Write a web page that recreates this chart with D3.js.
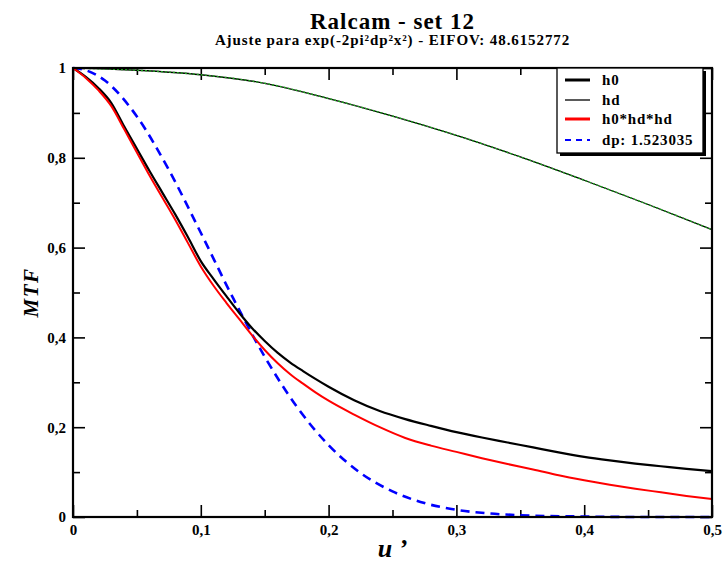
<!DOCTYPE html>
<html>
<head>
<meta charset="utf-8">
<script src="https://cdn.jsdelivr.net/npm/d3@7"></script>
<style>
  body { margin: 0; background: #fff; }
</style>
</head>
<body>
<svg id="chart" width="725" height="565"></svg>
<script>
// data
const freq = [0, 0.01, 0.02, 0.03, 0.04, 0.05, 0.06, 0.07, 0.08, 0.09, 0.10, 0.11, 0.12, 0.13, 0.14,
  0.15, 0.16, 0.17, 0.18, 0.19, 0.20, 0.22, 0.24, 0.26, 0.28, 0.30, 0.32, 0.34, 0.36, 0.38,
  0.40, 0.42, 0.44, 0.46, 0.48, 0.50];
const h0 = [1.000, 0.980, 0.955, 0.922, 0.870, 0.820, 0.770, 0.722, 0.674, 0.623, 0.570, 0.530,
  0.492, 0.455, 0.421, 0.392, 0.366, 0.344, 0.325, 0.307, 0.290, 0.260, 0.236, 0.218, 0.203,
  0.189, 0.177, 0.166, 0.155, 0.144, 0.134, 0.126, 0.119, 0.113, 0.107, 0.102];
const h0hdhd = [1.000, 0.978, 0.950, 0.915, 0.864, 0.812, 0.760, 0.711, 0.662, 0.610, 0.558, 0.515,
  0.477, 0.441, 0.405, 0.372, 0.343, 0.318, 0.297, 0.277, 0.259, 0.228, 0.200, 0.176, 0.159,
  0.145, 0.131, 0.118, 0.106, 0.093, 0.082, 0.072, 0.063, 0.055, 0.047, 0.040];

const freqHd = [0, 0.05, 0.10, 0.15, 0.20, 0.25, 0.30, 0.35, 0.40, 0.45, 0.50];
const hd = [1.000, 0.995, 0.985, 0.966, 0.932, 0.893, 0.850, 0.802, 0.750, 0.696, 0.640];

const freqDp = [0, 0.01, 0.025, 0.05, 0.075, 0.10, 0.125, 0.15, 0.175, 0.20, 0.225, 0.25, 0.275,
  0.30, 0.325, 0.35, 0.40, 0.45, 0.50];
const dp = [1.000, 0.995, 0.972, 0.892, 0.773, 0.633, 0.489, 0.357, 0.246, 0.160, 0.098, 0.057,
  0.031, 0.016, 0.008, 0.004, 0.001, 0.000, 0.000];

const xMajor = [0, 0.1, 0.2, 0.3, 0.4, 0.5];
const xMinor = [0.05, 0.15, 0.25, 0.35, 0.45];
const yMajor = [0, 0.2, 0.4, 0.6, 0.8, 1];
const yMinor = [0.1, 0.3, 0.5, 0.7, 0.9];

const legendNames = ['h0', 'hd', 'h0*hd*hd', 'dp: 1.523035'];

const font = '"Liberation Serif", "Liberation Sans", Arial, sans-serif';

const svg = d3.select('svg#chart')
  .style('font-family', font)
  .style('font-weight', 'bold');
const pad = {top: 68, right: 13, bottom: 48, left: 73};
const width = 725 - pad.left - pad.right;
const height = 565 - pad.top - pad.bottom;

const plot = svg.append('g').attr('transform', `translate(${pad.left}, ${pad.top})`);

const x = d3.scaleLinear().domain([0, 0.5]).range([0, width]);
const y = d3.scaleLinear().domain([0, 1]).range([height, 0]);

const fmt = d => String(d).replace('.', ',');

// title
svg.append('text')
  .attr('x', pad.left + width / 2).attr('y', 29)
  .attr('text-anchor', 'middle')
  .style('font-size', '23px').style('letter-spacing', '1px')
  .text('Ralcam - set 12');
svg.append('text')
  .attr('x', pad.left + width / 2).attr('y', 45)
  .attr('text-anchor', 'middle')
  .style('font-size', '15px').style('letter-spacing', '0.9px')
  .text('Ajuste para exp(-2pi²dp²x²) - EIFOV: 48.6152772');

// axes, ticks on every side pointing inward
function axisStyle(g) {
  g.attr('font-family', null).attr('font-size', null);
  g.select('.domain').remove();
  g.selectAll('line').attr('stroke', '#000').attr('stroke-width', 1.6);
  g.selectAll('text').style('font-size', '15px').attr('fill', '#000');
}
plot.append('g').attr('transform', `translate(0, ${height})`)
  .call(d3.axisBottom(x).tickValues(xMajor).tickSize(-12).tickPadding(7).tickFormat(fmt))
  .call(axisStyle);
plot.append('g').attr('transform', `translate(0, ${height})`)
  .call(d3.axisBottom(x).tickValues(xMinor).tickSize(-7).tickFormat(''))
  .call(axisStyle);
plot.append('g')
  .call(d3.axisTop(x).tickValues(xMajor).tickSize(-12).tickFormat(''))
  .call(axisStyle);
plot.append('g')
  .call(d3.axisTop(x).tickValues(xMinor).tickSize(-7).tickFormat(''))
  .call(axisStyle);
plot.append('g')
  .call(d3.axisLeft(y).tickValues(yMajor).tickSize(-12).tickPadding(7).tickFormat(fmt))
  .call(axisStyle);
plot.append('g')
  .call(d3.axisLeft(y).tickValues(yMinor).tickSize(-7).tickFormat(''))
  .call(axisStyle);
plot.append('g').attr('transform', `translate(${width}, 0)`)
  .call(d3.axisRight(y).tickValues(yMajor).tickSize(-12).tickFormat(''))
  .call(axisStyle);
plot.append('g').attr('transform', `translate(${width}, 0)`)
  .call(d3.axisRight(y).tickValues(yMinor).tickSize(-7).tickFormat(''))
  .call(axisStyle);

// axis titles
svg.append('text')
  .attr('transform', `translate(38, ${pad.top + height / 2}) rotate(-90)`)
  .attr('text-anchor', 'middle')
  .style('font-size', '21px').style('font-style', 'italic').style('letter-spacing', '1.5px')
  .text('MTF');
svg.append('text')
  .attr('x', pad.left + width / 2).attr('y', 557)
  .attr('text-anchor', 'middle')
  .style('font-size', '26px').style('font-style', 'italic')
  .text('u ’');

// curves
const line = (xs, ys) => d3.line()
  .x((d, i) => x(xs[i]))
  .y(d => y(d))
  .curve(d3.curveMonotoneX)(ys);

const lines = plot.append('g');
lines.append('path').attr('d', line(freqHd, hd))
  .attr('fill', 'none').attr('stroke', '#000').attr('stroke-width', 1.3);
lines.append('path').attr('d', line(freqHd, hd))
  .attr('fill', 'none').attr('stroke', '#1fa51f').attr('stroke-width', 1.4)
  .attr('stroke-dasharray', '2,2');
lines.append('path').attr('d', line(freqDp, dp))
  .attr('fill', 'none').attr('stroke', '#0000ff').attr('stroke-width', 2.6)
  .attr('stroke-dasharray', '9,6');
lines.append('path').attr('d', line(freq, h0))
  .attr('fill', 'none').attr('stroke', '#000').attr('stroke-width', 2.2);
lines.append('path').attr('d', line(freq, h0hdhd))
  .attr('fill', 'none').attr('stroke', '#ff0000').attr('stroke-width', 2);

// frame
plot.append('rect')
  .attr('width', width).attr('height', height)
  .attr('fill', 'none').attr('stroke', '#000').attr('stroke-width', 2.2);

// legend
const lg = svg.append('g').attr('transform', 'translate(557, 68)');
lg.append('rect').attr('x', 3).attr('y', 3).attr('width', 146).attr('height', 85)
  .attr('fill', '#000');
lg.append('rect').attr('width', 146).attr('height', 85)
  .attr('fill', '#fff').attr('stroke', '#000').attr('stroke-width', 1.3);

const lStyle = [
  {stroke: '#000', w: 3, dash: null},
  {stroke: '#000', w: 1.3, dash: null},
  {stroke: '#ff0000', w: 3, dash: null},
  {stroke: '#0000ff', w: 2, dash: '6,5'}
];
const rowY = [12, 32, 51, 72];
legendNames.forEach((name, i) => {
  lg.append('line')
    .attr('x1', 8).attr('x2', 33).attr('y1', rowY[i]).attr('y2', rowY[i])
    .attr('stroke', lStyle[i].stroke).attr('stroke-width', lStyle[i].w)
    .attr('stroke-dasharray', lStyle[i].dash);
  lg.append('text')
    .attr('x', 45).attr('y', rowY[i]).attr('dy', '0.35em')
    .style('font-size', '15px').style('letter-spacing', '0.8px')
    .text(name);
});
</script>
</body>
</html>
